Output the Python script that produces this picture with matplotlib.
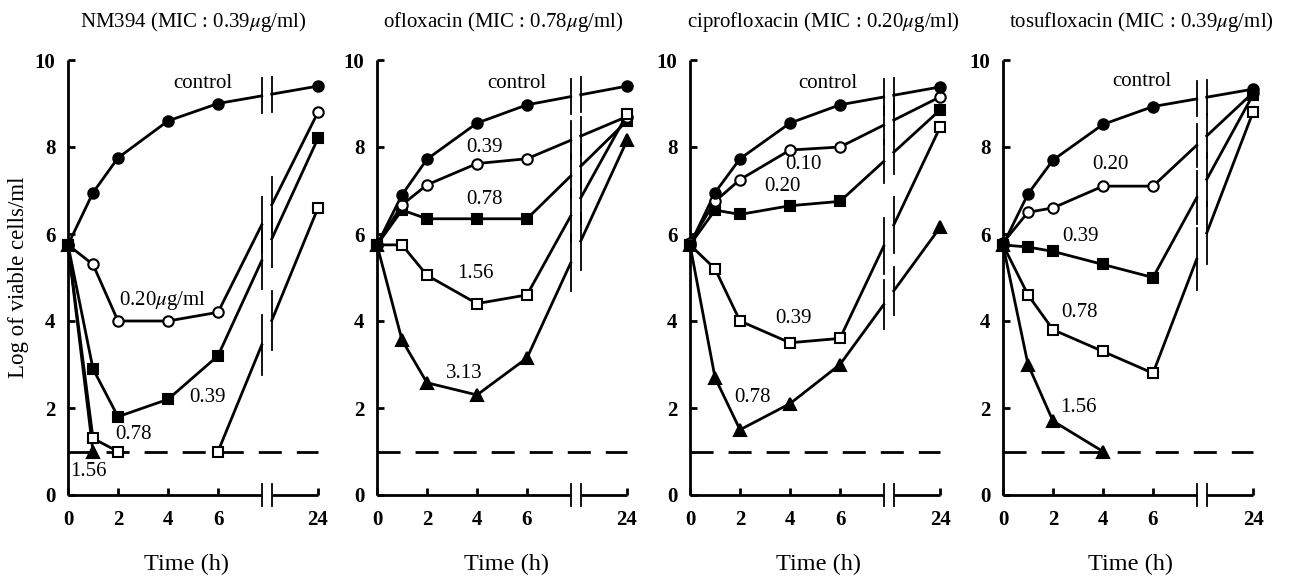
import numpy as np
import matplotlib.pyplot as plt

plt.rcParams['font.family'] = ['Liberation Serif', 'DejaVu Serif']
plt.rcParams['mathtext.fontset'] = 'stix'

nan = np.nan

hours = [0, 1, 2, 4, 6, 24]
xpos = np.array([0, 1, 2, 4, 6, 10])   # 24 h drawn after the axis break
tick_pos = [0, 2, 4, 6, 10]
tick_lab = ['0', '2', '4', '6', '24']
detect_limit = 1.0

# NM394
nm_control = [5.75, 6.95, 7.75, 8.6, 9.0, 9.4]
nm_020 = [5.75, 5.3, 4.0, 4.0, 4.2, 8.8]
nm_039 = [5.75, 2.9, 1.8, 2.2, 3.2, 8.2]
nm_078 = [5.75, 1.3, 1.0, nan, 1.0, 6.6]
nm_156 = [5.75, 1.0, nan, nan, nan, nan]

# ofloxacin
of_control = [5.75, 6.9, 7.72, 8.55, 8.97, 9.4]
of_039 = [5.75, 6.67, 7.13, 7.62, 7.73, 8.7]
of_078 = [5.75, 6.55, 6.35, 6.35, 6.35, 8.6]
of_156 = [5.75, 5.75, 5.05, 4.4, 4.6, 8.75]
of_313 = [5.75, 3.56, 2.58, 2.3, 3.15, 8.15]

# ciprofloxacin
ci_control = [5.75, 6.95, 7.73, 8.55, 8.97, 9.38]
ci_010 = [5.8, 6.75, 7.25, 7.93, 8.0, 9.15]
ci_020 = [5.75, 6.55, 6.45, 6.65, 6.75, 8.85]
ci_039 = [5.75, 5.2, 4.0, 3.5, 3.6, 8.45]
ci_078 = [5.75, 2.7, 1.5, 2.1, 3.0, 6.15]

# tosufloxacin
to_control = [5.75, 6.92, 7.7, 8.52, 8.93, 9.33]
to_020 = [5.8, 6.5, 6.6, 7.1, 7.1, 9.25]
to_039 = [5.75, 5.7, 5.6, 5.3, 5.0, 9.2]
to_078 = [5.75, 4.6, 3.8, 3.3, 2.8, 8.8]
to_156 = [5.75, 3.0, 1.7, 1.0, nan, nan]

styles = {
    'fc': dict(marker='o', mfc='black'),
    'oc': dict(marker='o', mfc='white'),
    'fs': dict(marker='s', mfc='black'),
    'os': dict(marker='s', mfc='white'),
    'ft': dict(marker='^', mfc='black'),
}

mu = r'$\mu$'
panels = [
    dict(title='NM394 (MIC : 0.39' + mu + 'g/ml)',
         series=[(nm_156, 'ft'), (nm_078, 'os'), (nm_039, 'fs'), (nm_020, 'oc'), (nm_control, 'fc')],
         labels=[('control', 5.4, 9.45), ('0.20' + mu + 'g/ml', 3.8, 4.48), ('0.39', 5.6, 2.25),
                 ('0.78', 2.6, 1.38), ('1.56', 0.8, 0.53)]),
    dict(title='ofloxacin (MIC : 0.78' + mu + 'g/ml)',
         series=[(of_313, 'ft'), (of_078, 'fs'), (of_039, 'oc'), (of_156, 'os'), (of_control, 'fc')],
         labels=[('control', 5.6, 9.45), ('0.39', 4.3, 8.0), ('0.78', 4.3, 6.8),
                 ('1.56', 3.95, 5.1), ('3.13', 3.5, 2.8)]),
    dict(title='ciprofloxacin (MIC : 0.20' + mu + 'g/ml)',
         series=[(ci_078, 'ft'), (ci_039, 'os'), (ci_020, 'fs'), (ci_010, 'oc'), (ci_control, 'fc')],
         labels=[('control', 5.5, 9.45), ('0.10', 4.55, 7.6), ('0.20', 3.7, 7.1),
                 ('0.39', 4.15, 4.05), ('0.78', 2.5, 2.25)]),
    dict(title='tosufloxacin (MIC : 0.39' + mu + 'g/ml)',
         series=[(to_156, 'ft'), (to_078, 'os'), (to_020, 'oc'), (to_039, 'fs'), (to_control, 'fc')],
         labels=[('control', 5.55, 9.5), ('0.20', 4.3, 7.6), ('0.39', 3.1, 5.95),
                 ('0.78', 3.05, 4.2), ('1.56', 3.0, 2.0)]),
]

W, H = 1289, 576
fig = plt.figure(figsize=(W / 100, H / 100), dpi=100)

lefts = [68, 377, 690, 1003]
title_x = [193, 503, 823, 1141]
xlab_x = [186, 507, 818, 1130]
bx1, bx2 = 7.75, 8.15
lw = 2.0

for i, p in enumerate(panels):
    ax = fig.add_axes([lefts[i] / W, 1 - 495 / H, 250 / W, 435 / H])
    ax.set_xlim(0, 10)
    ax.set_ylim(0, 10)
    for s in ['top', 'right', 'bottom']:
        ax.spines[s].set_visible(False)
    ax.spines['left'].set_linewidth(2.0)
    ax.spines['left'].set_capstyle('butt')

    # x axis with break
    ax.plot([0, bx1], [0, 0], color='black', lw=2.0, clip_on=False, solid_capstyle='butt')
    ax.plot([bx2, 10], [0, 0], color='black', lw=2.0, clip_on=False, solid_capstyle='butt')
    for bx in (bx1, bx2):
        ax.plot([bx, bx], [-0.25, 0.25], color='black', lw=1.3, clip_on=False)

    # detection limit
    ax.plot([0, 10], [detect_limit, detect_limit], color='black', lw=2.0,
            linestyle=(0, (8.3, 5.4)), clip_on=False)

    for vals, st in p['series']:
        y = np.array(vals, dtype=float)
        y6, y24 = y[4], y[5]
        xs = list(xpos[:5])
        ys = list(y[:5])
        if not np.isnan(y6) and not np.isnan(y24):
            slope = (y24 - y6) / 4.0
            yb1 = y6 + slope * (bx1 - 6)
            yb2 = y6 + slope * (bx2 - 6)
            xs.append(bx1)
            ys.append(yb1)
            ax.plot([bx2, 10], [yb2, y24], color='black', lw=lw, clip_on=False, zorder=3)
            h = 0.38 + 0.22 * abs(slope)
            ax.plot([bx1, bx1], [yb1 - h, yb1 + h], color='black', lw=1.3, zorder=3)
            ax.plot([bx2, bx2], [yb2 - h, yb2 + h], color='black', lw=1.3, zorder=3)
        ax.plot(xs, ys, color='black', lw=lw, clip_on=False, zorder=3)
        ax.plot(xpos, y, linestyle='none', color='black', mec='black', mew=1.5,
                ms=7.5 if st != 'ft' else 8.5, clip_on=False, zorder=4, **styles[st])

    for txt, tx, ty in p['labels']:
        ax.text(tx, ty, txt, fontsize=15, ha='center', va='center', zorder=5)

    ax.set_xticks(tick_pos)
    ax.set_xticklabels(tick_lab)
    ax.set_yticks([0, 2, 4, 6, 8, 10])
    ax.tick_params(axis='both', direction='in', length=5, width=2.0, labelsize=15)
    ax.tick_params(axis='x', pad=11)
    ax.tick_params(axis='y', pad=9)
    for lab in ax.get_xticklabels() + ax.get_yticklabels():
        lab.set_fontweight('bold')

    fig.text(title_x[i] / W, 1 - 22 / H, p['title'], fontsize=15, ha='center', va='center')
    fig.text(xlab_x[i] / W, 1 - 564 / H, 'Time (h)', fontsize=17.5, ha='center', va='center')

fig.text(19 / W, 1 - 277 / H, 'Log of viable cells/ml', fontsize=16.5, rotation=90,
         ha='center', va='center')

fig.savefig('out.png', dpi=100)
